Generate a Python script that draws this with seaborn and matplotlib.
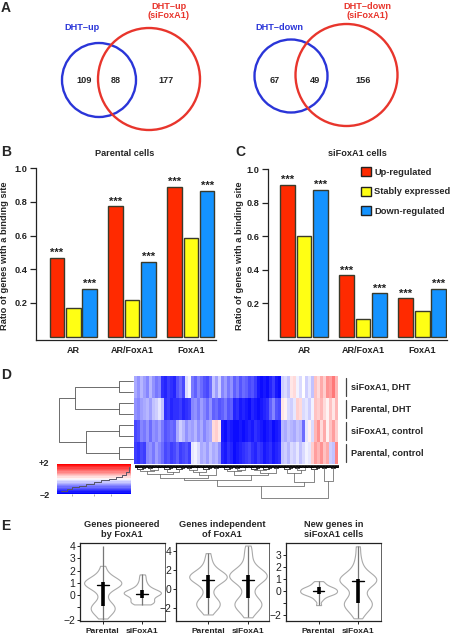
import numpy as np
import pandas as pd
import matplotlib
matplotlib.use("Agg")
import matplotlib.pyplot as plt
from matplotlib.colors import LinearSegmentedColormap
from matplotlib.patches import Circle, Patch
import seaborn as sns

W, H = 453, 637

# panel B / C
groups = ["AR", "AR/FoxA1", "FoxA1"]
classes = ["Up-regulated", "Stably expressed", "Down-regulated"]
class_colors = ["#ff2a00", "#ffff14", "#1493ff"]
parental_ratio = [0.47, 0.17, 0.285, 0.775, 0.22, 0.445, 0.89, 0.585, 0.865]
sifoxa1_ratio = [0.905, 0.60, 0.875, 0.365, 0.105, 0.26, 0.23, 0.155, 0.285]

# panel A
venn_left = [("DHT–up", "DHT–up\n(siFoxA1)"), (109, 88, 177)]
venn_right = [("DHT–down", "DHT–down\n(siFoxA1)"), (67, 49, 156)]

# panel D
heat_labels = ["siFoxA1, DHT", "Parental, DHT", "siFoxA1, control", "Parental, control"]
heat_sifoxa1_dht = [-0.7, -0.9, -0.6, -0.8, -1.0, -0.6, -0.9, -1.1, -1.0, -1.7, -1.8, -1.6, -1.7, -1.8, -1.4, -1.2, -1.5,
                    -0.3, -0.1, -1.1, -1.3, -1.0, -1.2, -1.4, -1.5, -1.2, -0.5, -0.8, -0.4, -1.0, -0.8, -1.1, -0.9,
                    -1.3, -1.1, -1.4, -1.2, -1.3, -1.5, -1.4, -1.6, -1.9, -2.0, -1.9, -2.0, -1.8, -1.6, -1.9, -2.0,
                    -0.4, -0.3, -0.5, 0.2, 0.3, -0.1, -0.3, 0.0, -0.4, -0.2, -0.5, 0.5, 0.3, 0.7, 0.4, 0.9, 0.8, 1.1, 0.6]
heat_parental_dht = [-0.9, -1.0, -0.8, -0.7, -0.6, -0.8, -0.5, -0.4, -0.2, -0.5, -1.7, -1.6, -1.8, -1.7, -1.7, -1.6, -1.8,
                     -1.7, -1.6, -1.0, -0.9, -1.1, -0.8, -1.0, -1.2, -0.9, -1.3, -1.2, -1.4, -1.3, -1.1, -1.4, -1.3,
                     -1.8, -1.7, -1.9, -1.8, -1.9, -2.0, -1.8, -1.9, -2.0, -1.9, -1.8, -1.7, -1.3, -1.0, -1.4, -1.5,
                     0.2, 0.1, -0.3, -0.4, -0.2, 0.4, 0.3, -0.3, -0.2, -0.4, -0.1, 0.5, 0.4, 0.6, 0.3, 0.1, 0.5, 0.2, 0.6]
heat_sifoxa1_ctrl = [-1.5, -1.4, -1.0, -1.1, -0.9, -1.2, -0.9, -1.0, -0.8, -1.1, -1.4, -1.3, -1.2, -1.3, -0.7, -0.4, -0.6,
                     -0.9, -0.7, -0.8, -0.6, -0.9, -0.7, -1.0, -0.8, -0.7, 0.3, 0.4, 0.2, -1.9, -2.0, -1.8, -1.9,
                     -2.0, -2.0, -1.9, -2.0, -1.9, -1.8, -1.9, -1.7, -1.8, -1.9, -2.0, -1.9, -1.8, -2.0, -1.9, -1.8,
                     -0.6, -0.7, -0.5, -0.6, -0.7, -0.5, -0.6, -1.2, -0.2, 0.1, -0.3, 0.6, 0.9, 0.3, 0.7, 0.1, 0.5, 0.8, 0.4]
heat_parental_ctrl = [-1.6, -1.7, -1.5, -1.6, -1.0, -0.9, -1.1, -0.8, -1.0, -1.2, -1.5, -1.4, -1.6, -1.5, -1.3, -1.6, -1.5,
                      -1.4, -1.6, -0.2, -0.1, -0.3, -0.7, -0.6, -0.8, -0.5, -0.7, -0.6, -0.9, -1.8, -1.9, -1.7, -1.8,
                      -2.0, -1.9, -1.8, -1.7, -1.6, -1.5, -1.7, -1.8, -1.6, -1.7, -1.9, -1.8, -1.7, -1.9, -1.8, -1.7,
                      -0.5, -0.4, -0.6, -0.3, -0.4, -0.2, -0.5, -0.3, -0.1, -0.2, 0.4, 0.8, 0.6, 0.9, 0.5, 0.7, -0.4, -0.5, 1.0]
key_curve_x = [0.05, 0.14, 0.2, 0.3, 0.4, 0.5, 0.6, 0.7, 0.8, 0.88, 0.93, 0.98]
key_curve_y = [-1.6, -1.4, -1.1, -0.9, -0.7, -0.4, -0.2, 0.0, 0.2, 0.5, 0.9, 1.6]

# dendrograms as [height, left, right], 0 is a leaf
row_tree = [1.0, [0.776, [0.18, 0, 0], [0.18, 0, 0]], [0.63, [0.18, 0, 0], [0.18, 0, 0]]]
tri = [3, 0, [2, 0, 0]]
quad = [4, [2, 0, 0], [3, 0, 0]]
five = [5, [3, 0, [2, 0, 0]], [2, 0, 0]]
col_tree = [33,
            [21,
             [15,
              [13, [9, [6, quad, five], [7, quad, quad]], [10, [7, five, quad], tri]],
              [10, [6, quad, five], [8, [5, quad, quad], tri]]],
             [17, [8, quad, five], quad]],
            [16, tri, tri]]

# panel E, expression samples
violin_titles = ["Genes pioneered\nby FoxA1", "Genes independent\nof FoxA1", "New genes in\nsiFoxA1 cells"]
violin_names = ["Parental", "siFoxA1"]
pioneered_parental = [-1.9, -1.6, -1.4, -1.3, -1.2, -1.1, -1.0, -0.9, -0.8, -0.7, -0.5, 0.0, 0.4, 0.6, 0.7, 0.8, 0.85,
                      0.9, 0.95, 1.0, 1.05, 1.1, 1.15, 1.2, 1.3, 1.4, 1.6, 1.9, 2.4]
pioneered_sifoxa1 = [-0.75, -0.7, -0.6, -0.55, -0.5, -0.4, -0.3, -0.2, -0.1, 0.0, 0.05, 0.1, 0.15, 0.2, 0.2, 0.25, 0.3,
                     0.35, 0.4, 0.5, 0.6, 0.7, 0.9, 1.1, 1.4, 1.7]
independent_parental = [-2.7, -2.3, -2.0, -1.8, -1.7, -1.6, -1.5, -1.4, -1.3, -1.1, -0.7, 0.0, 0.4, 0.7, 0.9, 1.0, 1.1,
                        1.15, 1.2, 1.25, 1.3, 1.4, 1.45, 1.5, 1.6, 1.7, 1.9, 2.2, 2.6, 3.1, 3.8]
independent_sifoxa1 = [-3.0, -2.5, -2.1, -1.9, -1.8, -1.7, -1.6, -1.5, -1.4, -1.3, -1.1, -0.7, 0.1, 0.5, 0.8, 1.0, 1.1,
                       1.2, 1.3, 1.35, 1.4, 1.5, 1.55, 1.6, 1.7, 1.8, 2.0, 2.3, 2.8, 3.4, 4.0, 4.6]
new_parental = [-1.2, -0.8, -0.6, -0.45, -0.35, -0.3, -0.25, -0.2, -0.15, -0.1, -0.05, 0.0, 0.05, 0.1, 0.15, 0.2, 0.25,
                0.3, 0.4, 0.5, 0.65, 0.8]
new_sifoxa1 = [-2.3, -1.9, -1.6, -1.4, -1.3, -1.2, -1.1, -1.0, -0.9, -0.8, -0.6, -0.3, 0.2, 0.4, 0.6, 0.7, 0.8, 0.85,
               0.9, 0.95, 1.0, 1.1, 1.2, 1.3, 1.5, 1.8, 2.2, 2.8, 3.7]
violin_samples = [(pioneered_parental, pioneered_sifoxa1), (independent_parental, independent_sifoxa1),
                  (new_parental, new_sifoxa1)]
violin_whisker = [[(-2.0, 4.0), (-0.8, 1.7)], [(-2.7, 3.8), (-3.0, 4.6)], [(-1.2, 0.8), (-2.3, 3.7)]]
violin_box = [[(-0.9, 1.05), (-0.2, 0.4)], [(-1.0, 1.5), (-1.0, 1.5)], [(-0.3, 0.3), (-1.0, 1.0)]]
violin_median = [[0.85, 0.1], [1.0, 1.0], [0.0, 0.8]]
violin_ticks = [[4, 3, 2, 1, 0, -1, -2], [4, 2, 0, -2], [3, 2, 1, 0, -1, -2]]
violin_ticklabels = [["4", "3", "2", "1", "0", "", "−2"], ["4", "2", "0", "−2"], ["3", "2", "1", "0", "", "−2"]]

sns.set_style("ticks")
plt.rcParams["font.family"] = ["Liberation Sans", "DejaVu Sans"]
plt.rcParams["axes.edgecolor"] = "#222222"
plt.rcParams["xtick.color"] = "#222222"
plt.rcParams["ytick.color"] = "#222222"

fig = plt.figure(figsize=(W / 100, H / 100), dpi=100)


def px_axes(x0, y0, x1, y1):
    return fig.add_axes([x0 / W, 1 - y1 / H, (x1 - x0) / W, (y1 - y0) / H])


canvas = px_axes(0, 0, W, H)
canvas.set_xlim(0, W)
canvas.set_ylim(H, 0)
canvas.axis("off")
canvas.set_zorder(5)

for letter, x, y in [("A", 1, 8), ("B", 1, 152), ("C", 235, 152), ("D", 1, 375), ("E", 1, 526)]:
    canvas.text(x, y, letter, fontsize=10, fontweight="bold", va="center")

# A: venn diagrams
for venn, blue, red, xblue, xtext in [(venn_left, (99, 80, 37), (149, 79, 51), (82, 28), (84, 116, 166)),
                                      (venn_right, (291, 76, 36.5), (346.5, 75, 51), (279, 28), (275, 315, 363))]:
    canvas.add_patch(Circle(blue[:2], blue[2], fill=False, ec="#2a35d8", lw=1.7))
    canvas.add_patch(Circle(red[:2], red[2], fill=False, ec="#e8352c", lw=1.7))
    canvas.text(xblue[0], xblue[1], venn[0][0], color="#2a35d8", fontsize=6.6, fontweight="bold", ha="center", va="center")
    canvas.text(red[0] + 20 if venn is venn_left else red[0] + 21, 11, venn[0][1], color="#e8352c", fontsize=6.6,
                fontweight="bold", ha="center", va="center", linespacing=1.05)
    for x, n in zip(xtext, venn[1]):
        canvas.text(x, 80.5, str(n), fontsize=6.6, fontweight="bold", ha="center", va="center")


def draw_bars(ax, values):
    df = pd.DataFrame({"group": np.repeat(groups, 3), "cls": classes * 3, "ratio": values})
    sns.barplot(data=df, x="group", y="ratio", hue="cls", hue_order=classes, palette=class_colors, ax=ax,
                width=0.83, gap=0.1, saturation=1, edgecolor="#3a3a2a", linewidth=1.0, legend=False)
    ax.set_ylim(-0.02, 1.0)
    ax.set_yticks([0.2, 0.4, 0.6, 0.8, 1.0])
    ax.set_yticklabels(["0.2", "0.4", "0.6", "0.8", "1.0"], fontsize=6.6, fontweight="bold")
    ax.tick_params(axis="y", length=4, width=0.9, pad=2)
    ax.tick_params(axis="x", length=0, pad=4, labelsize=6.5)
    for lab in ax.get_xticklabels():
        lab.set_fontweight("bold")
    ax.set_xlabel("")
    ax.set_ylabel("")
    sns.despine(ax=ax)
    for sp in ["left", "bottom"]:
        ax.spines[sp].set_linewidth(0.9)
    # every up and down bar carries stars
    for bar in ax.patches:
        if bar.get_height() > 0 and bar.get_facecolor()[1] < 0.9:
            ax.text(bar.get_x() + bar.get_width() / 2, bar.get_height() + 0.028, "***", ha="center", va="center",
                    fontsize=8, fontweight="bold", color="#222222", clip_on=False)


ax_b = px_axes(36, 168.3, 216, 340)
draw_bars(ax_b, parental_ratio)
ax_b.set_xlim(-0.634, 2.427)
ax_c = px_axes(268, 169, 447, 340)
draw_bars(ax_c, sifoxa1_ratio)
ax_c.set_xlim(-0.61, 2.42)

canvas.text(125, 154, "Parental cells", fontsize=6.6, fontweight="bold", ha="center", va="center")
canvas.text(357, 154, "siFoxA1 cells", fontsize=6.6, fontweight="bold", ha="center", va="center")
for x in [5, 240]:
    canvas.text(x, 256, "Ratio of genes with a binding site", fontsize=6.7, fontweight="bold", rotation=90,
                ha="center", va="center")

handles = [Patch(facecolor=c, edgecolor="#222222", linewidth=1.0) for c in class_colors]
canvas.legend(handles, classes, loc="upper left", bbox_to_anchor=(361 / W, 1 - 167 / H), frameon=False,
              prop={"size": 6.7, "weight": "bold"}, handlelength=1.1, handleheight=1.1, handletextpad=0.3,
              labelspacing=1.08, borderpad=0, borderaxespad=0)

# D: heatmap
heat_cmap = LinearSegmentedColormap.from_list("bwr_key", ["#0000ff", "#ffffff", "#ff0000"])
heat_rows = []
for row in [heat_sifoxa1_dht, heat_parental_dht, heat_sifoxa1_ctrl, heat_parental_ctrl]:
    heat_rows += [row, row]
ax_heat = px_axes(134, 375.7, 338, 464)
sns.heatmap(np.array(heat_rows), cmap=heat_cmap, vmin=-2.1, vmax=2.1, cbar=False, xticklabels=False, yticklabels=False,
            ax=ax_heat)


def leaves(node):
    return 1 if node == 0 else leaves(node[1]) + leaves(node[2])


def draw_tree(node, pos, line):
    # returns the leg position and height of node, leaves are laid out in order
    if node == 0:
        return pos, 0.0
    n_left = leaves(node[1])
    p1, h1 = draw_tree(node[1], pos, line)
    p2, h2 = draw_tree(node[2], pos + n_left, line)
    line([p1, p1, p2, p2], [h1, node[0], node[0], h2])
    return (p1 + p2) / 2, node[0]


def row_line(pos, hts):
    canvas.plot([132.7 - h * 74 for h in hts], [375.7 + (p + 0.5) * 11.04 for p in pos], color="#555555", lw=0.6)


def col_line(pos, hts):
    canvas.plot([134 + (p + 0.5) * 3 for p in pos], [464.5 + h for h in hts],
                color="#111111" if max(hts) < 5 else "#666666", lw=0.55)


draw_tree(row_tree, 0, row_line)
draw_tree(col_tree, 0, col_line)
# the leaves themselves are too dense to tell apart, they read as a dark fringe
for i in range(leaves(col_tree)):
    x = 134 + i * 3
    canvas.plot([x + 0.5, x + 0.5, x + 2.5, x + 2.5], [465, 466.8, 466.8, 465], color="black", lw=0.7)
    canvas.plot([x + 1.5, x + 1.5], [465, 466.8], color="black", lw=0.5)

for i, lab in enumerate(heat_labels):
    y0 = 375.7 + i * 22.08
    canvas.plot([345.7, 345.7], [y0 + 2.5, y0 + 20.5], color="#444444", lw=0.9)
    canvas.text(351, y0 + 11.5, lab, fontsize=6.6, fontweight="bold", va="center")

# colour key
key_values = np.linspace(2, -2, 24).reshape(-1, 1)
ax_key = px_axes(57, 463.7, 130.7, 494)
sns.heatmap(key_values, cmap=heat_cmap, vmin=-2, vmax=2, cbar=False, xticklabels=False, yticklabels=False, ax=ax_key)
ax_key.step(key_curve_x, [(2 - v) / 4 * 24 for v in key_curve_y], where="post", color="#555566", lw=0.7)
ax_key.set_xticks([0.2, 0.5, 0.73])
ax_key.tick_params(axis="x", length=1.2, width=0.5, color="#888888", bottom=True)
canvas.text(44, 463.5, "+2", fontsize=6.6, fontweight="bold", ha="center", va="center")
canvas.text(45, 495, "–2", fontsize=6.6, fontweight="bold", ha="center", va="center")

# E: violins
violin_boxes = [(80, 165), (176, 268.7), (286, 381)]
violin_ylims = [(-2.08, 4.24), (-3.36, 4.84), (-2.5, 3.95)]
violin_xlims = [(-0.573, 1.573), (-0.8, 1.52), (-0.83, 1.59)]
for i, title in enumerate(violin_titles):
    ax = px_axes(violin_boxes[i][0], 543.3, violin_boxes[i][1], 620.7)
    a, b = violin_samples[i]
    df = pd.DataFrame({"name": [violin_names[0]] * len(a) + [violin_names[1]] * len(b), "value": list(a) + list(b)})
    sns.violinplot(data=df, x="name", y="value", order=violin_names, color="white", linecolor="#aaaaaa", linewidth=0.8,
                   inner=None, cut=0, bw_method=0.33, density_norm="width", width=0.94, ax=ax)
    for j in range(2):
        ax.plot([j, j], violin_whisker[i][j], color="#777777", lw=0.9, solid_capstyle="butt", zorder=4)
        ax.plot([j, j], violin_box[i][j], color="black", lw=2.6, solid_capstyle="butt", zorder=5)
        ax.plot([j - 0.15, j + 0.15], [violin_median[i][j]] * 2, color="black", lw=1.0, zorder=6)
    ax.set_xlim(*violin_xlims[i])
    ax.set_ylim(*violin_ylims[i])
    ax.set_yticks(violin_ticks[i])
    ax.set_yticklabels(violin_ticklabels[i], fontsize=7.5, color="#222222")
    ax.tick_params(axis="y", length=2, width=0.7, pad=1.5)
    ax.tick_params(axis="x", length=2.5, width=0.7, pad=3, labelsize=6)
    for lab in ax.get_xticklabels():
        lab.set_fontweight("bold")
    ax.set_xlabel("")
    ax.set_ylabel("")
    for sp in ["left", "bottom", "top", "right"]:
        ax.spines[sp].set_visible(True)
        ax.spines[sp].set_linewidth(0.9 if sp in ("left", "bottom", "top") else 0.5)
    canvas.text((violin_boxes[i][0] + violin_boxes[i][1]) / 2 + (0 if i else -0.5), 529.5, title, fontsize=6.7,
                fontweight="bold", ha="center", va="center", linespacing=1.1)

fig.savefig("out.png", dpi=100)
